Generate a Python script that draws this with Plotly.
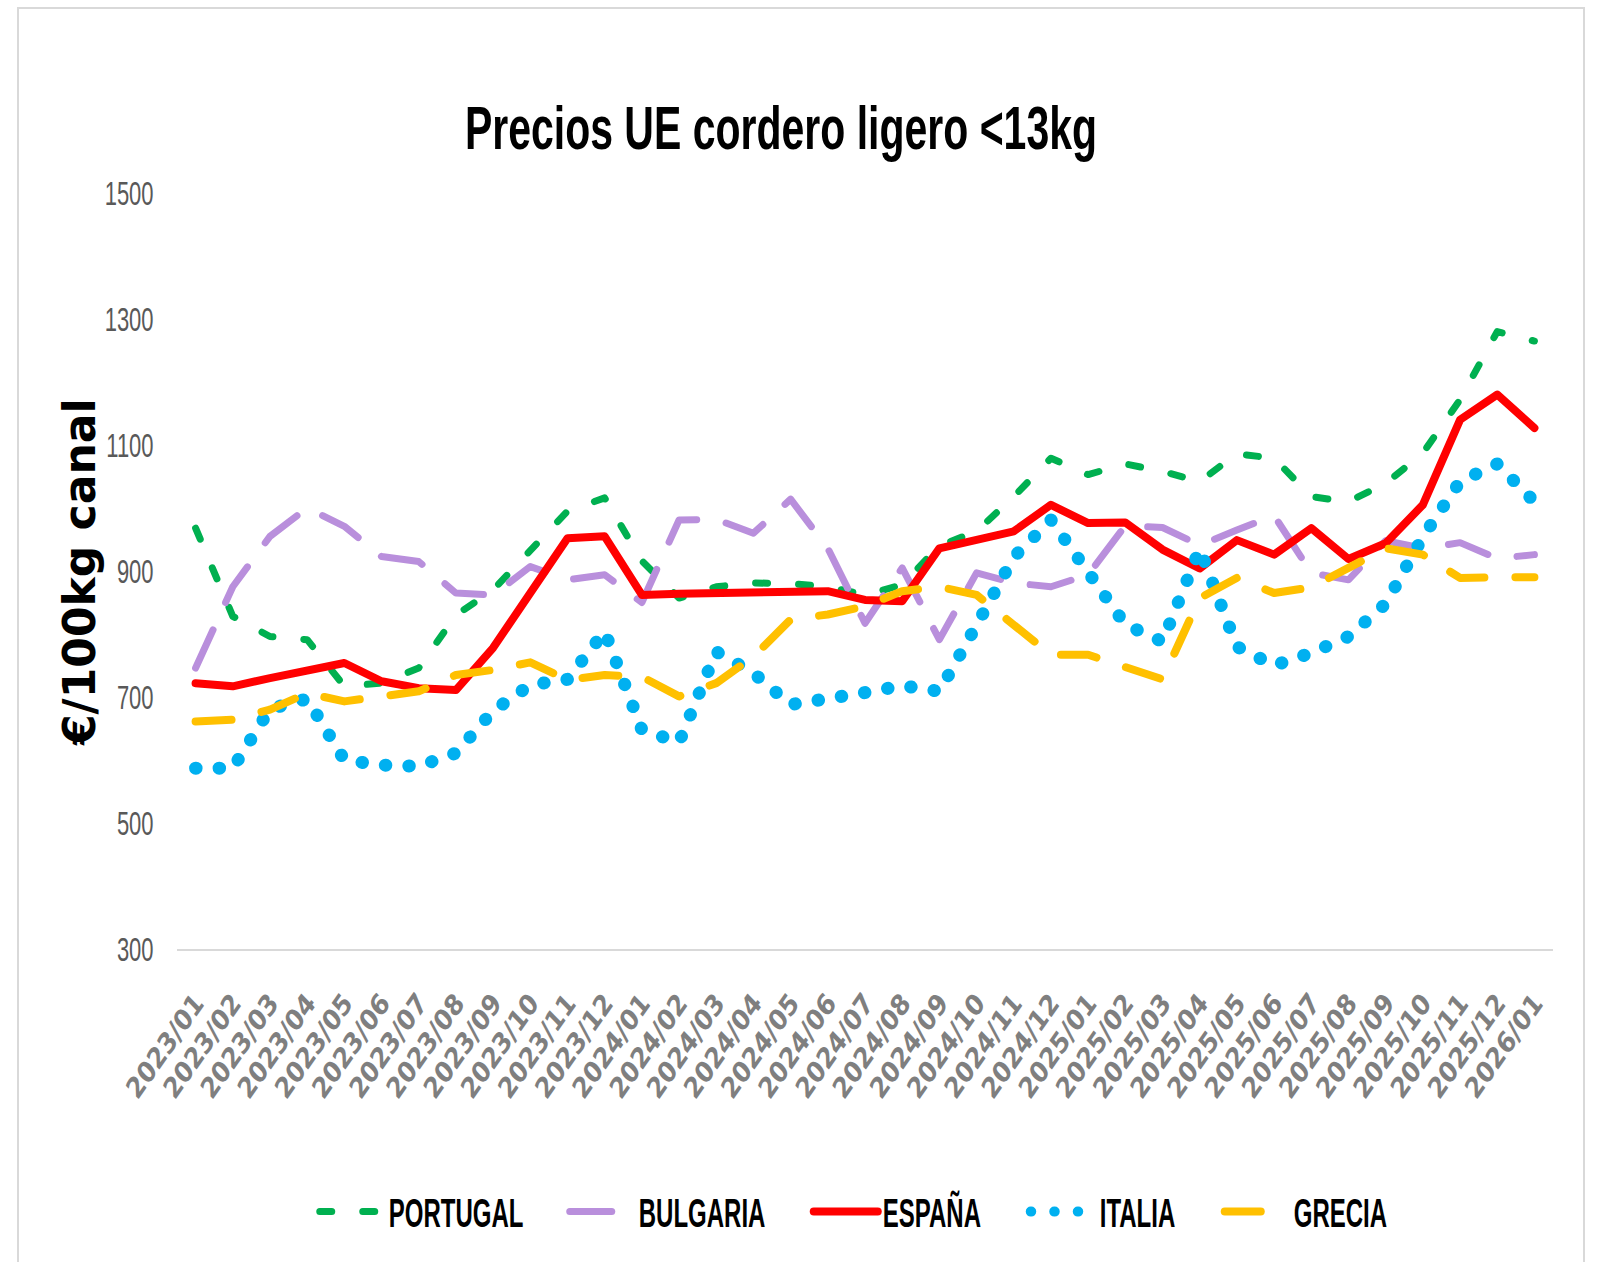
import plotly.graph_objects as go

months = ["2023/01","2023/02","2023/03","2023/04","2023/05","2023/06","2023/07","2023/08","2023/09","2023/10","2023/11","2023/12",
          "2024/01","2024/02","2024/03","2024/04","2024/05","2024/06","2024/07","2024/08","2024/09","2024/10","2024/11","2024/12",
          "2025/01","2025/02","2025/03","2025/04","2025/05","2025/06","2025/07","2025/08","2025/09","2025/10","2025/11","2025/12",
          "2026/01"]

portugal = [968, 828, 796, 791, 717, 722, 746, 830, 870, 931, 995, 1016,
            916, 857, 875, 881, 880, 875, 862, 878, 940, 963, 1018, 1079,
            1053, 1070, 1058, 1042, 1086, 1079, 1018, 1010, 1039, 1087, 1172, 1280,
            1265]
bulgaria = [746, 875, 955, 1000, 971, 923, 915, 865, 862, 907, 886, 894,
            850, 981, 982, 960, 1014, 936, 817, 905, 791, 897, 881, 875,
            894, 972, 969, 941, 965, 988, 897, 886, 948, 936, 945, 920,
            926]
espana = [722, 717, 730, 741, 754, 725, 714, 711, 778, 865, 952, 955,
          862, 864, 865, 866, 868, 868, 854, 852, 936, 950, 963, 1005,
          976, 977, 934, 904, 949, 926, 968, 919, 944, 1005, 1140, 1180,
          1127]
italia = [587, 587, 681, 697, 600, 592, 590, 611, 678, 719, 728, 804,
          648, 628, 772, 738, 688, 696, 707, 718, 709, 814, 922, 981,
          897, 815, 788, 935, 780, 750, 770, 796, 848, 954, 1042, 1070,
          1010]
grecia = [661, 664, 680, 706, 693, 701, 709, 735, 743, 755, 727, 735,
          732, 701, 722, 764, 823, 831, 844, 868, 875, 862, 815, 767,
          767, 746, 728, 857, 889, 865, 874, 905, 936, 926, 889, 890,
          890]

y_ticks = [300, 500, 700, 900, 1100, 1300, 1500]

# name, values, colour, width, dash, legend entry width
series = [
    ("PORTUGAL", portugal, "#00B050", 7, "12px,31px", 171),
    ("BULGARIA", bulgaria, "#B98FDC", 7, "42px,30px", 165),
    ("ESPAÑA", espana, "#FF0000", 8, "solid", 138),
    ("ITALIA", italia, "#00B0F0", 13, "0.5px,23px", 115),
    ("GRECIA", grecia, "#FFC000", 8, "36px,31px", 100),
]

sans = "Liberation Sans, Arial, sans-serif"

fig = go.Figure()
for name, vals, color, w, dash, lw in series:
    fig.add_trace(go.Scatter(
        x=months, y=vals, name=name, mode="lines",
        line=dict(color=color, width=w, dash=dash),
        legendwidth=lw,
    ))

fig.update_layout(
    width=1602, height=1262,
    paper_bgcolor="white", plot_bgcolor="white",
    margin=dict(l=177, r=49, t=193, b=313),
    title=dict(text="<b>Precios UE cordero ligero <13kg</b>",
               x=0.4875, xref="container", xanchor="center",
               y=1 - 128 / 1262, yref="container", yanchor="middle",
               font=dict(family=sans, size=41, color="black")),
    xaxis=dict(type="category", categoryorder="array", categoryarray=months,
               range=[-0.5, 36.5], tickmode="array", tickvals=months, ticktext=months,
               tickangle=-55, showgrid=False, zeroline=False,
               showline=True, linecolor="#D9D9D9", linewidth=2,
               ticks="outside", ticklen=26, tickcolor="rgba(0,0,0,0)",
               tickfont=dict(family="DejaVu Sans", size=26, color="#7F7F7F",
                             weight="bold", style="italic")),
    yaxis=dict(range=[300, 1500], tickmode="array", tickvals=y_ticks,
               showgrid=False, zeroline=False, showline=False,
               ticks="outside", ticklen=18, tickcolor="rgba(0,0,0,0)",
               tickfont=dict(family=sans, size=22, color="#595959")),
    legend=dict(orientation="h", x=0.494, xanchor="center",
                y=(949 - 1212) / 756, yanchor="middle",
                font=dict(family=sans, size=24, color="black", weight="bold"),
                itemwidth=64),
    showlegend=True,
    annotations=[dict(text="<b>€/100kg canal</b>", textangle=-90,
                      xref="paper", yref="paper",
                      x=(79 - 177) / 1376, y=(949 - 573) / 756,
                      xanchor="center", yanchor="middle", showarrow=False,
                      font=dict(family="DejaVu Sans", size=44, color="black"))],
    shapes=[dict(type="rect", xref="paper", yref="paper",
                 x0=(18 - 177) / 1376, x1=(1584 - 177) / 1376,
                 y0=(949 - 1300) / 756, y1=(949 - 8) / 756,
                 line=dict(color="#D9D9D9", width=2), fillcolor="rgba(0,0,0,0)",
                 layer="below")],
)

post = """
document.body.style.margin='0';
var s=document.createElement('style');
s.innerHTML='path.js-line{stroke-linecap:round !important;stroke-linejoin:round !important;}'
 + '.gtitle{transform-box:fill-box;transform-origin:center;transform:scaleY(1.5);}'
 + '.legendtext{transform-box:fill-box;transform-origin:center;transform:scaleY(1.7);}';
document.head.appendChild(s);
document.querySelectorAll('.ytick text').forEach(function(t){
  var b=t.getBBox(); var cx=b.x+b.width/2, cy=b.y+b.height/2;
  var old=t.getAttribute('transform')||'';
  t.setAttribute('transform', old+' translate('+cx+','+cy+') scale(1,1.55) translate('+(-cx)+','+(-cy)+')');
});
"""

fig.write_html("out.html", post_script=post, config={"displayModeBar": False})
